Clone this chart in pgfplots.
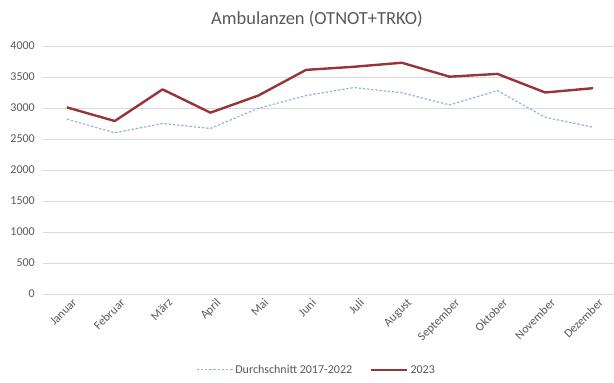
\documentclass[border=0pt]{standalone}
\usepackage{pgfplots}
\pgfplotsset{compat=1.18}
\usepackage{fontspec}
\setmainfont{Carlito}

\definecolor{txtgray}{RGB}{89,89,89}
\definecolor{gridgray}{RGB}{217,217,217}
\definecolor{avgblue}{RGB}{141,180,226}
\definecolor{curred}{RGB}{150,52,56}

\pgfplotstableread{
idx avg   y2023
0   2820  3010
1   2600  2790
2   2750  3300
3   2670  2925
4   2995  3200
5   3200  3615
6   3330  3665
7   3245  3730
8   3050  3505
9   3280  3550
10  2850  3250
11  2690  3320
}\ambdata

\begin{document}
\begin{tikzpicture}
\path[use as bounding box] (0,0) rectangle (614bp,383bp);
\node[font=\fontsize{18.5bp}{22bp}\selectfont, text=txtgray] at (317bp,364bp) {Ambulanzen (OTNOT+TRKO)};
\begin{axis}[
  at={(43bp,89bp)}, anchor=south west,
  scale only axis, width=574bp, height=248bp,
  xmin=-0.5, xmax=11.5, ymin=0, ymax=4000,
  xtick=data,
  xticklabels={Januar,Februar,März,April,Mai,Juni,Juli,August,September,Oktober,November,Dezember},
  ytick={0,500,...,4000},
  ymajorgrids, major grid style={gridgray, line width=0.6pt},
  axis line style={draw=none},
  tick style={draw=none},
  /pgf/number format/assume math mode=true,
  /pgf/number format/set thousands separator={},
  ticklabel style={font=\fontsize{12bp}{14bp}\selectfont, text=txtgray},
  xticklabel style={rotate=45, anchor=north east, inner sep=1pt, xshift=2bp, yshift=-5bp},
  yticklabel style={inner sep=2pt, xshift=-6bp},
  legend columns=2,
  legend style={at={(0.4765,-0.306)}, anchor=center, draw=none, fill=none,
    font=\fontsize{12bp}{14bp}\selectfont, text=txtgray,
    /tikz/every even column/.append style={column sep=16bp}},
  legend image code/.code={\draw[#1] (0bp,0bp) -- (36bp,0bp);},
]
\addplot[avgblue, line width=1.2pt, dash pattern=on 2.4pt off 1.8pt] table[x=idx, y=avg] {\ambdata};
\addlegendentry{Durchschnitt 2017-2022}
\addplot[curred, line width=2.4pt, line join=round] table[x=idx, y=y2023] {\ambdata};
\addlegendentry{2023}
\end{axis}
\end{tikzpicture}
\end{document}
